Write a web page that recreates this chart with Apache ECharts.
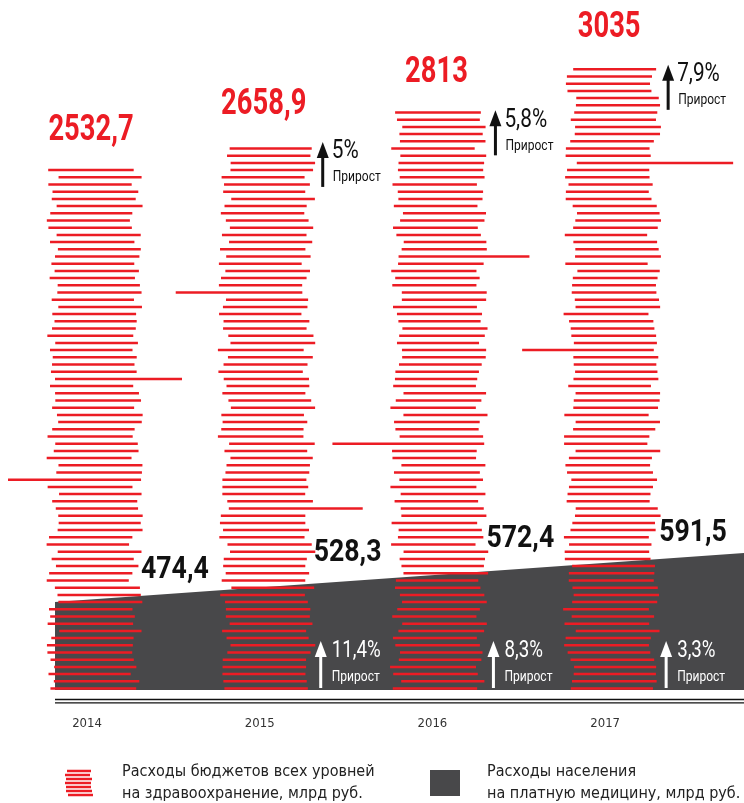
<!DOCTYPE html>
<html>
<head>
<meta charset="utf-8">
<script src="https://cdn.jsdelivr.net/npm/echarts@6/dist/echarts.min.js"></script>
<style>
  html, body { margin: 0; padding: 0; background: #fff; }
  #chart { width: 744px; height: 803px; }
</style>
</head>
<body>
<div id="chart"></div>
<script>
// data
const years = ['2014', '2015', '2016', '2017'];
const budgetValues = [2532.7, 2658.9, 2813, 3035];
const paidValues = [474.4, 528.3, 572.4, 591.5];
const budgetGrowth = ['', '5%', '5,8%', '7,9%'];
const paidGrowth = ['', '11,4%', '8,3%', '3,3%'];
const growthWord = 'Прирост';
const budgetName = 'Расходы бюджетов всех уровней\nна здравоохранение, млрд руб.';
const paidName = 'Расходы населения\nна платную медицину, млрд руб.';

const RED = '#ec1c24';
const DARK = '#48484a';
const SANS = 'Roboto, sans-serif';
const COND = '"DejaVu Sans Condensed", "DejaVu Sans", sans-serif';

// decorative long stripes: [fraction of bar height, extension from centre]
const accentLeft = [[0.406, 86], [0.72, 91], [0.43, 107], [0.54, 90]];
const accentRight = [[0.60, 88], [0.335, 96], [0.75, 90], [0.85, 121]];

const fmt = v => String(v).replace('.', ',');

function jitter(col, row, k) {
  const s = Math.sin(col * 91.7 + row * 12.9898 + k * 47.3) * 43758.5453;
  return s - Math.floor(s);
}

// horizontally squeezed text, to get the condensed look of the original
function label(text, x, y, font, fill, sx, align) {
  return {
    type: 'text', x: x, y: y, scaleX: sx,
    style: { text: text, x: 0, y: 0, align: align || 'left', verticalAlign: 'middle', font: font, fill: fill }
  };
}

function arrow(x, top, h, color) {
  return [
    { type: 'polygon', shape: { points: [[x - 6, top + 16], [x, top], [x + 6, top + 16]] }, style: { fill: color } },
    { type: 'rect', shape: { x: x - 1.5, y: top + 14, width: 3, height: h - 14 }, style: { fill: color } }
  ];
}

function renderColumn(params, api) {
  const i = params.dataIndex;
  const base = api.coord([i, 0]);
  const top = api.coord([i, api.value(1)]);
  const cx = base[0];
  const h = base[1] - top[1];
  const step = 7.2;
  const n = Math.floor(h / step) + 1;
  const rowL = Math.round(accentLeft[i][0] * h / step);
  const rowR = Math.round(accentRight[i][0] * h / step);
  const children = [];
  for (let r = 0; r < n; r++) {
    const y = base[1] - 1.5 - r * step;
    const shift = (jitter(i, r, 1) - 0.5) * 13;
    const w = 84 + (jitter(i, r, 2) - 0.5) * 4;
    let x1 = cx - w / 2 + shift;
    let x2 = cx + w / 2 + shift;
    if (r === rowL) x1 = cx - accentLeft[i][1];
    if (r === rowR) x2 = cx + accentRight[i][1];
    children.push({ type: 'rect', shape: { x: x1, y: y - 1.25, width: x2 - x1, height: 2.5 }, style: { fill: RED } });
  }
  // value on top
  children.push(label(fmt(api.value(1)), cx - 3, top[1] - 40, 'bold 36px ' + SANS, RED, 0.76, 'center'));
  if (budgetGrowth[i]) {
    const ax = cx + 56, at = top[1] - 3;
    children.push(...arrow(ax, at, 45, '#111'));
    children.push(label(budgetGrowth[i], ax + 9, at + 10, '26px ' + SANS, '#111', 0.8));
    children.push(label(growthWord, ax + 10, at + 36, '14px ' + SANS, '#111', 0.86));
  }
  if (paidGrowth[i]) {
    const ax = cx + 54, at = base[1] - 49;
    children.push(...arrow(ax, at, 47, '#fff'));
    children.push(label(paidGrowth[i], ax + 11, at + 10, '24px ' + SANS, '#fff', 0.78));
    children.push(label(growthWord, ax + 11, at + 36, '14px ' + SANS, '#fff', 0.86));
  }
  return { type: 'group', children };
}

function renderPaid(params, api) {
  const i = params.dataIndex;
  const p = api.coord([i, api.value(1)]);
  const children = [];
  if (i === 0) {
    const p0 = api.coord([0, paidValues[0]]);
    const p3 = api.coord([paidValues.length - 1, paidValues[paidValues.length - 1]]);
    const slope = (p3[1] - p0[1]) / (p3[0] - p0[0]);
    const xl = p0[0] - 39;
    const xr = api.getWidth();
    const yl = p0[1] + slope * (xl - p0[0]);
    const yr = p0[1] + slope * (xr - p0[0]);
    const bottom = params.coordSys.y + params.coordSys.height;
    children.push({ type: 'polygon', shape: { points: [[xl, bottom], [xl, yl], [xr, yr], [xr, bottom]] }, style: { fill: DARK } });
    children.push({ type: 'line', shape: { x1: xl, y1: bottom + 9.5, x2: xr, y2: bottom + 9.5 }, style: { stroke: '#111', lineWidth: 1.3 } });
    children.push({ type: 'line', shape: { x1: xl, y1: bottom + 12.8, x2: xr, y2: bottom + 12.8 }, style: { stroke: '#111', lineWidth: 1.3 } });
  }
  children.push(label(fmt(api.value(1)), p[0] + 47, p[1] - 29, 'bold 31px ' + SANS, '#111', 0.86));
  return { type: 'group', children };
}

const chart = echarts.init(document.getElementById('chart'));

chart.setOption({
  animation: false,
  backgroundColor: '#fff',
  grid: { left: 7.65, right: 45.5, top: 13.5, bottom: 113 },
  xAxis: {
    type: 'category',
    data: years,
    axisLine: { show: false },
    axisTick: { show: false },
    axisLabel: { margin: 27, color: '#333', fontSize: 13, fontFamily: COND, padding: [0, 14, 0, 0] }
  },
  yAxis: [
    { type: 'value', min: 0, max: 3300, show: false },
    { type: 'value', min: 185.5, max: 2338, show: false }
  ],
  legend: [
    {
      left: 60, top: 756, itemWidth: 28, itemHeight: 27, selectedMode: false,
      data: [{ name: budgetName, icon: 'path://M2,0h24v2.4H2z M0,4h25v2.4H0z M1,8h26v2.4H1z M0,12h26v2.4H0z M1,16h25v2.4H1z M1,20h26v2.4H1z M3,24h25v2.4H3z' }],
      textStyle: { fontSize: 16, lineHeight: 22, color: '#222', fontFamily: COND, padding: [0, 0, 0, 24] }
    },
    {
      left: 425, top: 756, itemWidth: 30, itemHeight: 26, selectedMode: false,
      data: [{ name: paidName, icon: 'rect' }],
      textStyle: { fontSize: 16, lineHeight: 22, color: '#222', fontFamily: COND, padding: [0, 0, 0, 22] }
    }
  ],
  series: [
    {
      name: paidName,
      type: 'custom',
      yAxisIndex: 1,
      z: 1,
      clip: false,
      itemStyle: { color: DARK },
      renderItem: renderPaid,
      data: paidValues.map((v, i) => [i, v])
    },
    {
      name: budgetName,
      type: 'custom',
      yAxisIndex: 0,
      z: 2,
      clip: false,
      itemStyle: { color: RED },
      renderItem: renderColumn,
      data: budgetValues.map((v, i) => [i, v])
    }
  ]
});
</script>
</body>
</html>
